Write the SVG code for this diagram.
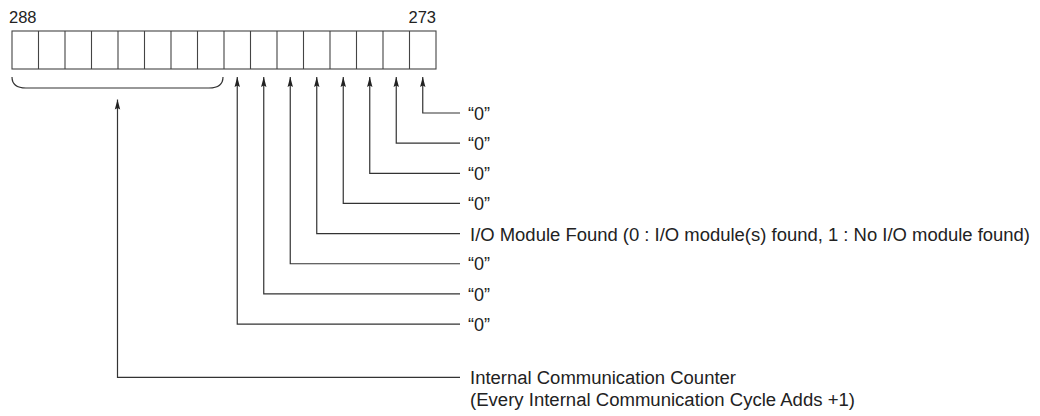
<svg xmlns="http://www.w3.org/2000/svg" width="1040" height="416" viewBox="0 0 1040 416">
<defs>
<style>
.ln{fill:none;stroke:#333;stroke-width:1.2}
.cell{fill:#fff;stroke:#444;stroke-width:1.1}
.t{font-family:"Liberation Sans",Arial,sans-serif;font-size:18px;fill:#222}
.n{font-family:"Liberation Sans",Arial,sans-serif;font-size:16.5px;fill:#222}
</style>
<marker id="ah" viewBox="0 0 10 10" refX="10" refY="5" markerWidth="10" markerHeight="10" markerUnits="userSpaceOnUse" orient="auto-start-reverse">
<path d="M0,2.3 L10,5 L0,7.7 L1.5,5 Z" fill="#222"/>
</marker>
</defs>
<rect width="1040" height="416" fill="#fff"/>
<g id="register">
<rect class="cell" x="12" y="31" width="424" height="38" stroke-width="1.5"/>
<path class="cell" d="M38.5,31V69M65,31V69M91.5,31V69M118,31V69M144.5,31V69M171,31V69M197.5,31V69M224,31V69M250.5,31V69M277,31V69M303.5,31V69M330,31V69M356.5,31V69M383,31V69M409.5,31V69"/>
<text class="n" x="9" y="22.5">288</text>
<text class="n" x="436" y="22.5" text-anchor="end">273</text>
</g>
<g id="bracket">
<path class="ln" d="M12,77 Q12,88 26,88 H209 Q223,88 223,77"/>
</g>
<g id="connectors">
<path class="ln" marker-start="url(#ah)" d="M422.75,77 V113 H460"/>
<path class="ln" marker-start="url(#ah)" d="M396.25,77 V143.15 H460"/>
<path class="ln" marker-start="url(#ah)" d="M369.75,77 V173.3 H460"/>
<path class="ln" marker-start="url(#ah)" d="M343.25,77 V203.45 H460"/>
<path class="ln" marker-start="url(#ah)" d="M316.75,77 V233.6 H460"/>
<path class="ln" marker-start="url(#ah)" d="M290.25,77 V263.75 H460"/>
<path class="ln" marker-start="url(#ah)" d="M263.75,77 V293.9 H460"/>
<path class="ln" marker-start="url(#ah)" d="M237.25,77 V324.05 H460"/>
<path class="ln" marker-start="url(#ah)" d="M117.5,99.5 V377.3 H460"/>
</g>
<g id="labels">
<text class="t" x="468" y="119.5">“0”</text>
<text class="t" x="468" y="149.7">“0”</text>
<text class="t" x="468" y="179.8">“0”</text>
<text class="t" x="468" y="210">“0”</text>
<text class="t" x="470" y="240.5" textLength="560" lengthAdjust="spacingAndGlyphs">I/O Module Found (0 : I/O module(s) found, 1 : No I/O module found)</text>
<text class="t" x="468" y="270.3">“0”</text>
<text class="t" x="468" y="300.5">“0”</text>
<text class="t" x="468" y="330.6">“0”</text>
<text class="t" x="470" y="384" textLength="266" lengthAdjust="spacingAndGlyphs">Internal Communication Counter</text>
<text class="t" x="470" y="406" textLength="385" lengthAdjust="spacingAndGlyphs">(Every Internal Communication Cycle Adds +1)</text>
</g>
</svg>
